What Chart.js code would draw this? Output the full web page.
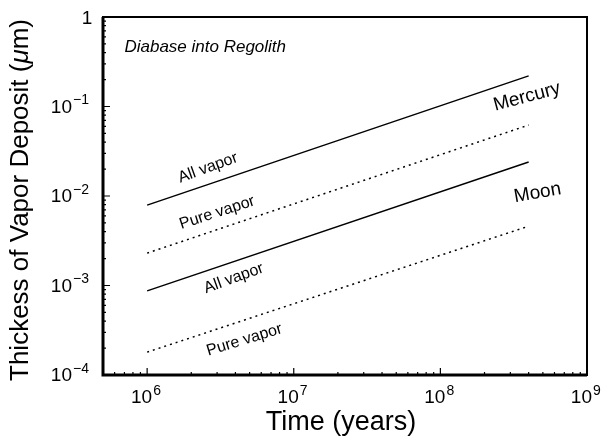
<!DOCTYPE html>
<html>
<head>
<meta charset="utf-8">
<script src="https://cdn.jsdelivr.net/npm/chart.js@4.4.0/dist/chart.umd.min.js"></script>
<style>
  body { margin: 0; background: #fff; }
  canvas { display: block; }
</style>
</head>
<body>
<canvas id="vaporChart" width="604" height="439"></canvas>
<script>
'use strict';

// time in years, thickness in micrometres
let timeYears = [1e6, 4e8];
let mercuryAllVapor = [0.0079, 0.22];
let mercuryPureVapor = [0.0023, 0.062];
let moonAllVapor = [0.00087, 0.024];
let moonPureVapor = [0.00018, 0.0046];

let xTickValues = [1e6, 1e7, 1e8, 1e9];
let xTickExponents = ['6', '7', '8', '9'];
let yTickValues = [1, 1e-1, 1e-2, 1e-3, 1e-4];
let yTickExponents = ['', '-1', '-2', '-3', '-4'];

// text labels placed in data coordinates
let labelTexts = ['All vapor', 'Pure vapor', 'All vapor', 'Pure vapor', 'Mercury', 'Moon'];
let labelX = [2.6e6, 3.0e6, 3.9e6, 4.6e6, 3.9e8, 4.6e8];
let labelY = [0.0206, 0.0065, 0.0012, 0.000246, 0.128, 0.0108];
let labelAngle = [-20, -18, -20, -17, -15, -10];
let labelSize = [16, 16, 16, 16, 19, 19];

let FONT = '"Liberation Sans", Arial, sans-serif';

function makePoints(ys) {
    let pts = [];
    for (let i = 0; i < timeYears.length; i++) {
        pts.push({ x: timeYears[i], y: ys[i] });
    }
    return pts;
}

function lineSet(name, ys, dotted) {
    return {
        label: name,
        data: makePoints(ys),
        borderColor: '#000',
        borderWidth: 1.5,
        borderDash: dotted ? [2, 4] : [],
        pointRadius: 0,
        fill: false,
        tension: 0
    };
}

let decoratePlugin = {
    id: 'decorate',
    afterDraw(chart) {
        let ctx = chart.ctx;
        let xs = chart.scales.x;
        let ys = chart.scales.y;
        let a = chart.chartArea;
        ctx.save();
        ctx.strokeStyle = '#000';
        ctx.fillStyle = '#000';

        // frame
        ctx.lineWidth = 2;
        ctx.strokeRect(a.left, a.top, a.right - a.left, a.bottom - a.top);
        ctx.lineWidth = 3;
        ctx.beginPath();
        ctx.moveTo(a.left, a.top);
        ctx.lineTo(a.left, a.bottom);
        ctx.lineTo(a.right, a.bottom);
        ctx.stroke();

        // inward tick marks, major and minor
        ctx.lineWidth = 1.2;
        ctx.beginPath();
        for (let d = 5; d <= 9; d++) {
            for (let m = 1; m <= 9; m++) {
                let v = m * Math.pow(10, d);
                if (v < xs.min || v > xs.max) continue;
                let px = xs.getPixelForValue(v);
                let len = m === 1 ? 7 : 3;
                ctx.moveTo(px, a.bottom);
                ctx.lineTo(px, a.bottom - len);
            }
        }
        for (let d = -4; d <= 0; d++) {
            for (let m = 1; m <= 9; m++) {
                let v = m * Math.pow(10, d);
                if (v < ys.min || v > ys.max) continue;
                let py = ys.getPixelForValue(v);
                let len = m === 1 ? 7 : 3;
                ctx.moveTo(a.left, py);
                ctx.lineTo(a.left + len, py);
            }
        }
        ctx.stroke();

        // tick labels
        ctx.textBaseline = 'middle';
        for (let i = 0; i < xTickValues.length; i++) {
            let px = xs.getPixelForValue(xTickValues[i]);
            ctx.font = '19px ' + FONT;
            ctx.textAlign = 'right';
            ctx.fillText('10', px + 5, a.bottom + 23);
            ctx.font = '14px ' + FONT;
            ctx.textAlign = 'left';
            ctx.fillText(xTickExponents[i], px + 6, a.bottom + 16);
        }
        for (let i = 0; i < yTickValues.length; i++) {
            let py = ys.getPixelForValue(yTickValues[i]);
            ctx.font = '19px ' + FONT;
            if (yTickExponents[i] === '') {
                ctx.textAlign = 'center';
                ctx.fillText('1', a.left - 16, py + 2);
                continue;
            }
            ctx.textAlign = 'right';
            ctx.fillText('10', a.left - 31, py + 1);
            ctx.font = '14px ' + FONT;
            ctx.textAlign = 'left';
            ctx.fillText(yTickExponents[i].replace('-', '\u2212'), a.left - 30, py - 6);
        }

        // axis titles
        ctx.font = '27px ' + FONT;
        ctx.textAlign = 'center';
        ctx.fillText('Time (years)', (a.left + a.right) / 2 - 4, a.bottom + 48);

        ctx.save();
        ctx.translate(21, (a.top + a.bottom) / 2 + 4);
        ctx.rotate(-Math.PI / 2);
        let partA = 'Thickess of Vapor Deposit (';
        let partB = '\u03bc';
        let partC = 'm)';
        ctx.font = '26px ' + FONT;
        let wA = ctx.measureText(partA).width;
        let wC = ctx.measureText(partC).width;
        ctx.font = 'italic 26px ' + FONT;
        let wB = ctx.measureText(partB).width;
        let start = -(wA + wB + wC) / 2;
        ctx.textAlign = 'left';
        ctx.font = '26px ' + FONT;
        ctx.fillText(partA, start, 0);
        ctx.font = 'italic 26px ' + FONT;
        ctx.fillText(partB, start + wA, 0);
        ctx.font = '26px ' + FONT;
        ctx.fillText(partC, start + wA + wB, 0);
        ctx.restore();

        // panel title
        ctx.font = 'italic 17px ' + FONT;
        ctx.textAlign = 'left';
        ctx.fillText('Diabase into Regolith', xs.getPixelForValue(7e5), ys.getPixelForValue(0.46));

        // curve labels
        ctx.textAlign = 'center';
        for (let i = 0; i < labelTexts.length; i++) {
            ctx.save();
            ctx.translate(xs.getPixelForValue(labelX[i]), ys.getPixelForValue(labelY[i]));
            ctx.rotate(labelAngle[i] * Math.PI / 180);
            ctx.font = labelSize[i] + 'px ' + FONT;
            ctx.fillText(labelTexts[i], 0, 0);
            ctx.restore();
        }
        ctx.restore();
    }
};

let ctx = document.getElementById('vaporChart').getContext('2d');
let vaporChart = new Chart(ctx, {
    type: 'line',
    data: {
        datasets: [
            lineSet('Mercury all vapor', mercuryAllVapor, false),
            lineSet('Mercury pure vapor', mercuryPureVapor, true),
            lineSet('Moon all vapor', moonAllVapor, false),
            lineSet('Moon pure vapor', moonPureVapor, true)
        ]
    },
    options: {
        responsive: false,
        animation: false,
        devicePixelRatio: 1,
        layout: { padding: { left: 103, right: 17, top: 17, bottom: 64 } },
        plugins: { legend: { display: false }, tooltip: { enabled: false } },
        scales: {
            x: { type: 'logarithmic', min: 5e5, max: 1e9, display: false },
            y: { type: 'logarithmic', min: 1e-4, max: 1, display: false }
        }
    },
    plugins: [decoratePlugin]
});
</script>
</body>
</html>
